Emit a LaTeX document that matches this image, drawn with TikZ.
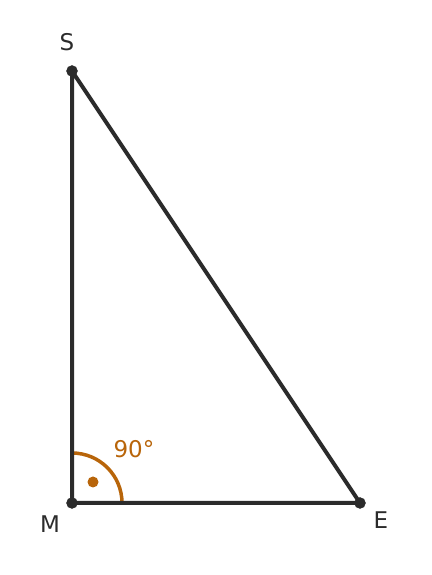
\documentclass[tikz,border=0pt]{standalone}
\usepackage{fontspec}
\setmainfont{DejaVu Sans}
\definecolor{linegray}{HTML}{2B2B2B}
\definecolor{anglecol}{HTML}{B8650A}
\begin{document}
\begin{tikzpicture}[x=1pt, y=1pt, font=\fontsize{23}{27}\selectfont]
        \useasboundingbox (0,0) rectangle (431,575);

        % Vertices
        \coordinate (S) at (72,504);
        \coordinate (M) at (72,72);
        \coordinate (E) at (360,72);

        % Right angle at M
        \draw[anglecol, line width=3.5pt] ([yshift=50pt]M) arc[start angle=90, end angle=0, radius=50];
        \fill[anglecol] ([shift={(21,21)}]M) circle(5.5);
        \node[text=anglecol] (ang) at (134,126) {90°};

        % Sides of the triangle
        \draw[linegray, line width=4pt, line join=round] (S) -- (M) -- (E) -- cycle;

        % Points and labels
        \filldraw[linegray] (S) circle(5.5);
        \filldraw[linegray] (M) circle(5.5);
        \filldraw[linegray] (E) circle(5.5);
        \node[text=linegray] (lS) at (67,533) {S};
        \node[text=linegray] (lM) at (50,51) {M};
        \node[text=linegray] (lE) at (381,55) {E};

      \end{tikzpicture}
\end{document}
